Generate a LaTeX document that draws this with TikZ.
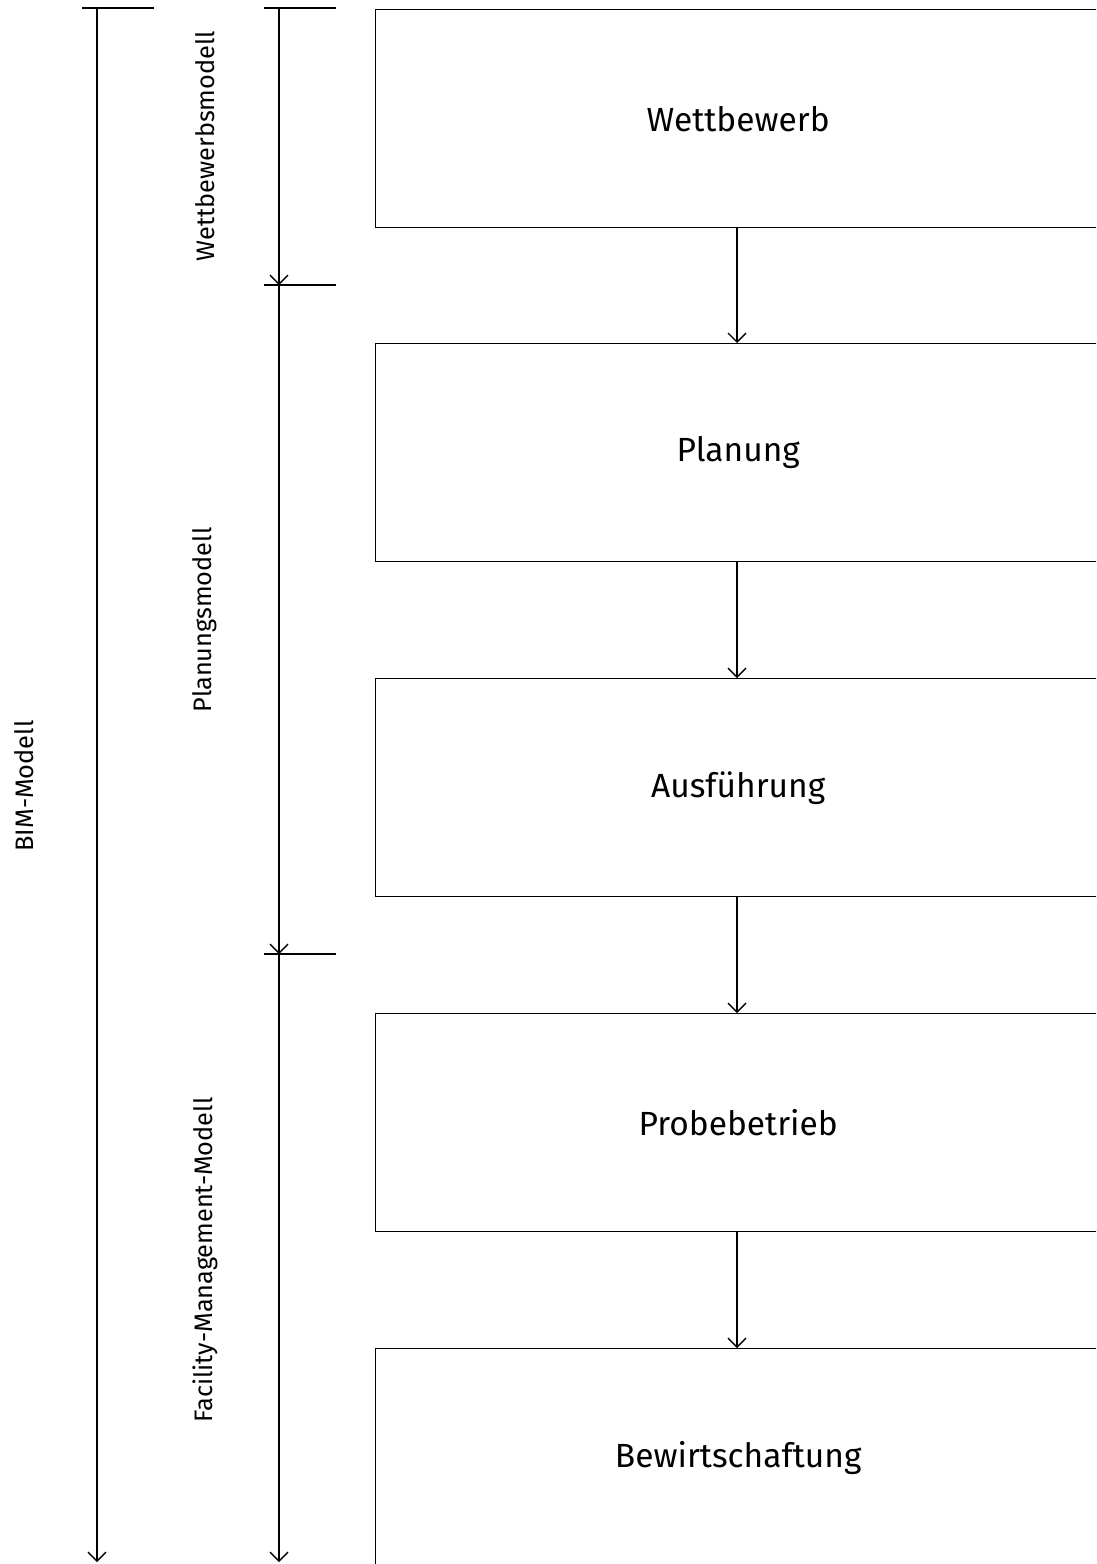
\documentclass[tikz,border=0pt]{standalone}
\usepackage{fontspec}
\setmainfont{Fira Sans}
\usetikzlibrary{arrows.meta}
\begin{document}
\begin{tikzpicture}[x=1pt,y=-1pt,
  line width=1.4pt,
  phase/.style={draw, line width=1.4pt, minimum width=725pt, minimum height=218pt, anchor=north west, inner sep=0pt, font=\fontsize{33.5}{38}\selectfont},
  flow/.style={-{Straight Barb[length=9pt,width=18pt,line width=1.4pt]}},
  side/.style={rotate=90, font=\fontsize{25.3}{30}\selectfont, inner sep=0pt}
]
\useasboundingbox (0,0) rectangle (1096,1564);
\clip (0,0) rectangle (1096,1564);
% phase boxes
\node[phase] (w) at (375,9) {Wettbewerb};
\node[phase] (p) at (375,343) {Planung};
\node[phase] (a) at (375,678) {Ausführung};
\node[phase] (f) at (375,1013) {Probebetrieb};
\node[phase] (b) at (375,1348) {Bewirtschaftung};
\draw[flow] (w.south -| 737,0) -- (p.north -| 737,0);
\draw[flow] (p.south -| 737,0) -- (a.north -| 737,0);
\draw[flow] (a.south -| 737,0) -- (f.north -| 737,0);
\draw[flow] (f.south -| 737,0) -- (b.north -| 737,0);
% BIM range
\coordinate (bimtop) at (97,8);
\coordinate (bimend) at (97,1562);
\draw (82,8) -- (154,8);
\draw[flow] (bimtop) -- (bimend);
% sub ranges
\coordinate (s0) at (279,8);
\coordinate (s1) at (279,285);
\coordinate (s2) at (279,954);
\coordinate (s3) at (279,1562);
\draw (264,8) -- (336,8);
\draw (264,285) -- (336,285);
\draw (264,954) -- (336,954);
\draw[flow] (s0) -- (s1);
\draw[flow] (s1) -- (s2);
\draw[flow] (s2) -- (s3);
% labels
\node[side] (lw) at (205,146) {Wettbewerbsmodell};
\node[side] (lp) at (205,620) {Planungsmodell};
\node[side] (lf) at (205,1260) {Facility-Management-Modell};
\node[side] (lb) at (24,786) {BIM-Modell};
\end{tikzpicture}
\end{document}
